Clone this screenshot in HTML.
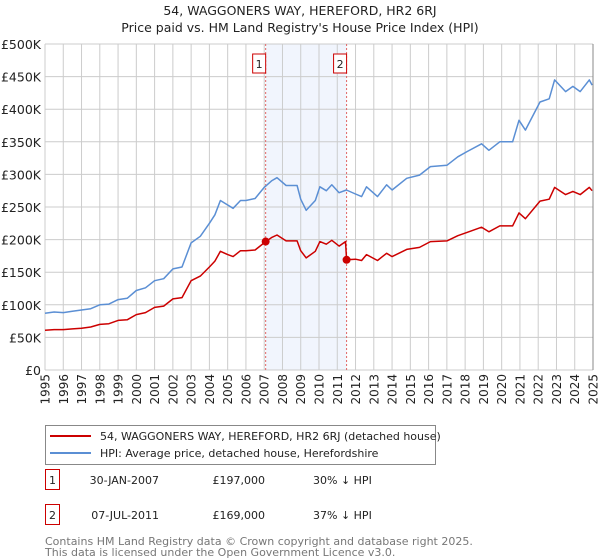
<!DOCTYPE html>
<html><head><meta charset="utf-8">
<style>
body{margin:0;background:#fff;font-family:"DejaVu Sans","Liberation Sans",sans-serif;}
#wrap{position:relative;width:600px;height:560px;overflow:hidden;}
svg text{font-family:"DejaVu Sans","Liberation Sans",sans-serif;}
</style></head>
<body><div id="wrap">
<svg id="chart" width="600" height="560" xmlns="http://www.w3.org/2000/svg"></svg>
</div>
<script>
const yTicks=[0,50,100,150,200,250,300,350,400,450,500];
const yTickLabels=["£0","£50K","£100K","£150K","£200K","£250K","£300K","£350K","£400K","£450K","£500K"];
const years=[1995,1996,1997,1998,1999,2000,2001,2002,2003,2004,2005,2006,2007,2008,2009,2010,2011,2012,2013,2014,2015,2016,2017,2018,2019,2020,2021,2022,2023,2024,2025];
const hpiDates=[1995.0,1995.5,1996.0,1996.5,1997.0,1997.5,1998.0,1998.5,1999.0,1999.5,2000.0,2000.5,2001.0,2001.5,2002.0,2002.5,2003.0,2003.5,2004.0,2004.3,2004.6,2005.0,2005.3,2005.7,2006.0,2006.5,2007.0,2007.4,2007.7,2008.2,2008.8,2009.0,2009.3,2009.8,2010.05,2010.4,2010.7,2011.1,2011.5,2012.0,2012.33,2012.6,2013.2,2013.7,2014.0,2014.8,2015.5,2016.1,2017.0,2017.6,2018.1,2018.9,2019.3,2019.9,2020.6,2020.95,2021.3,2022.1,2022.6,2022.9,2023.5,2023.9,2024.3,2024.8,2024.95];
const hpiValues=[87,89,88,90,92,94,100,101,108,110,122,126,137,140,155,158,195,205,225,238,260,253,248,260,260,263,280,290,295,283,283,262,245,260,281,275,284,272,276,270,266,281,266,284,276,294,299,312,314,327,335,347,337,350,350,383,368,411,416,445,427,435,427,445,437];
const paidDates=[1995.0,1995.5,1996.0,1996.5,1997.0,1997.5,1998.0,1998.5,1999.0,1999.5,2000.0,2000.5,2001.0,2001.5,2002.0,2002.5,2003.0,2003.5,2004.0,2004.3,2004.6,2005.0,2005.3,2005.7,2006.0,2006.5,2007.08,2007.4,2007.7,2008.2,2008.8,2009.0,2009.3,2009.8,2010.05,2010.4,2010.7,2011.1,2011.45,2011.51,2012.0,2012.33,2012.6,2013.2,2013.7,2014.0,2014.8,2015.5,2016.1,2017.0,2017.6,2018.1,2018.9,2019.3,2019.9,2020.6,2020.95,2021.3,2022.1,2022.6,2022.9,2023.5,2023.9,2024.3,2024.8,2024.95];
const paidValues=[61,62,62,63,64,66,70,71,76,77,85,88,96,98,109,111,137,144,158,167,182,177,174,183,183,184,197,203,207,198,198,183,172,182,197,193,199,190,197,169,170,168,177,168,179,174,185,188,197,198,206,211,219,212,221,221,241,232,259,262,280,269,274,269,280,275];
const sales=[{d:2007.08,v:197,label:"1"},{d:2011.51,v:169,label:"2"}];

const svg=document.getElementById('chart');
const NS="http://www.w3.org/2000/svg";
const L=45,R=593,T=44,B=370;
const x=d=>L+(d-1995)/(2025-1995)*(R-L);
const y=v=>B-v/500*(B-T);
function mk(tag,attrs,parent){const e=document.createElementNS(NS,tag);for(const k in attrs)e.setAttribute(k,attrs[k]);(parent||svg).appendChild(e);return e;}

// title
let t=mk('text',{x:300,y:15,'text-anchor':'middle','font-size':'12.5',fill:'#222'});t.textContent="54, WAGGONERS WAY, HEREFORD, HR2 6RJ";


t=mk('text',{x:300,y:32,'text-anchor':'middle','font-size':'12.5',fill:'#222'});t.textContent="Price paid vs. HM Land Registry's House Price Index (HPI)";



// shaded region
let sh=mk('rect',{x:x(sales[0].d),y:T,width:x(sales[1].d)-x(sales[0].d),height:B-T,fill:'#eef3fd',opacity:'0.8'});



// grid
yTicks.forEach((v,i)=>{
  const g=mk('line',{x1:L,x2:R,y1:y(v),y2:y(v),stroke:'#cccccc','stroke-width':1});
  
  
  const tl=mk('text',{x:L-4,y:y(v)+5,'text-anchor':'end','font-size':'12.5',fill:'#222'});
  tl.textContent=yTickLabels[i];
  
  
});
years.forEach(yr=>{
  const g=mk('line',{x1:x(yr),x2:x(yr),y1:T,y2:B,stroke:'#cccccc','stroke-width':1});
  
  
  const tl=mk('text',{x:0,y:0,'text-anchor':'end','font-size':'12',fill:'#222',transform:`translate(${x(yr)+4.5},374) rotate(-90)`});
  tl.textContent=yr;
  
  
});
let rb=mk('line',{x1:R,x2:R,y1:T,y2:B,stroke:'#888','stroke-width':1});



// sale vlines and markers
sales.forEach(s=>{
  const l=mk('line',{x1:x(s.d),x2:x(s.d),y1:T,y2:B,stroke:'#e06666','stroke-width':1,'stroke-dasharray':'2,2'});
  
  
  const bx=mk('rect',{x:x(s.d)-13,y:T+10,width:13,height:19,fill:'#fff',stroke:'#cc0000','stroke-width':1});
  
  
  const tx=mk('text',{x:x(s.d)-6.5,y:T+24,'text-anchor':'middle','font-size':'11',fill:'#222'});
  tx.textContent=s.label;
  
  
});

// lines
const line=(ds,vs,col,name)=>{
  const p=mk('polyline',{points:ds.map((d,i)=>x(d).toFixed(1)+','+y(vs[i]).toFixed(1)).join(' '),fill:'none',stroke:col,'stroke-width':1.5,'stroke-linejoin':'round'});
  
  
};
line(hpiDates,hpiValues,'#5b8fd4','hpi-line');
line(paidDates,paidValues,'#cc0000','price-paid-line');
sales.forEach(s=>{
  const c=mk('circle',{cx:x(s.d),cy:y(s.v),r:4,fill:'#cc0000'});
  
  
});

// legend
const lg=mk('g',{});


mk('rect',{x:45.5,y:425.5,width:390,height:39,fill:'#fff',stroke:'#888'},lg);
let ll=mk('line',{x1:50,x2:91,y1:436,y2:436,stroke:'#cc0000','stroke-width':2},lg);


let lt=mk('text',{x:100,y:440,'font-size':'11',fill:'#222'},lg);lt.textContent="54, WAGGONERS WAY, HEREFORD, HR2 6RJ (detached house)";


ll=mk('line',{x1:50,x2:91,y1:453,y2:453,stroke:'#5b8fd4','stroke-width':2},lg);


lt=mk('text',{x:100,y:457,'font-size':'11',fill:'#222'},lg);lt.textContent="HPI: Average price, detached house, Herefordshire";



// table
const rows=[["1","30-JAN-2007","£197,000","30% ↓ HPI",482],["2","07-JUL-2011","£169,000","37% ↓ HPI",517]];
rows.forEach(r=>{
  const g=mk('g',{});
  
  
  mk('rect',{x:45.5,y:r[4]-12.5,width:14,height:20,fill:'#fff',stroke:'#cc0000'},g);
  let a=mk('text',{x:52.5,y:r[4]+2,'text-anchor':'middle','font-size':'11',fill:'#222'},g);a.textContent=r[0];
  a=mk('text',{x:159,y:r[4]+2,'text-anchor':'end','font-size':'11',fill:'#222'},g);a.textContent=r[1];
  a=mk('text',{x:265,y:r[4]+2,'text-anchor':'end','font-size':'11',fill:'#222'},g);a.textContent=r[2];
  a=mk('text',{x:313,y:r[4]+2,'font-size':'11',fill:'#222'},g);a.textContent=r[3];
});
let f=mk('text',{x:45,y:545,'font-size':'11',fill:'#777'});f.textContent="Contains HM Land Registry data © Crown copyright and database right 2025.";


f=mk('text',{x:45,y:556,'font-size':'11',fill:'#777'});f.textContent="This data is licensed under the Open Government Licence v3.0.";


</script>
</body></html>
